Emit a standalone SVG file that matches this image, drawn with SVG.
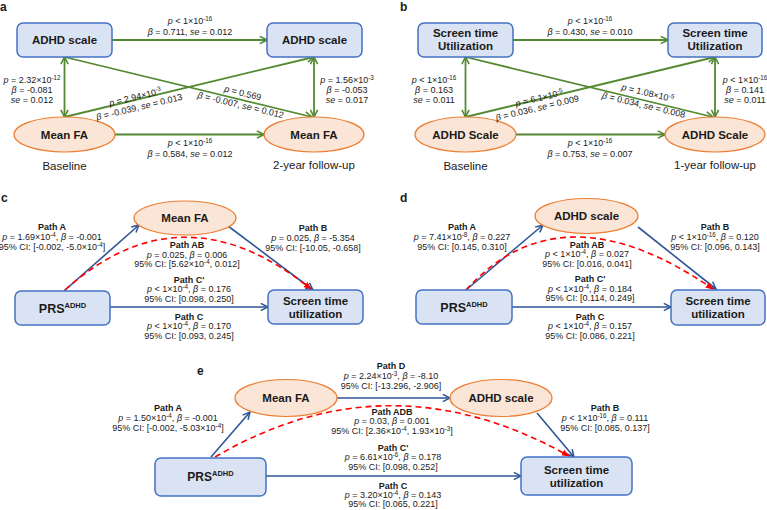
<svg xmlns="http://www.w3.org/2000/svg" width="767" height="510" viewBox="0 0 767 510">
<style>
text{font-family:"Liberation Sans",Arial,sans-serif;fill:#1a1a1a}
.s{font-size:9px;text-anchor:middle}
.pb{font-weight:bold}
.i{font-style:italic}
.sp{font-size:6.3px}
.n{font-size:11.5px;font-weight:bold;text-anchor:middle}
.cap{font-size:11.5px;text-anchor:middle}
.pl{font-size:12px;font-weight:bold}
.box{fill:#dae3f3;stroke:#4472c4;stroke-width:1.5}
.ell{fill:#fbe5d6;stroke:#ed7d31;stroke-width:1.2}
.g{stroke:#538a30;stroke-width:1.8;fill:none}
.bl{stroke:#2f5597;stroke-width:1.6;fill:none}
.rd{stroke:#ff0000;stroke-width:1.6;fill:none;stroke-dasharray:6 4}
</style>
<defs>
<marker id="ga" viewBox="0 0 10 10" refX="9" refY="5" markerWidth="9" markerHeight="9" markerUnits="userSpaceOnUse" orient="auto-start-reverse"><path d="M1,1 L9,5 L1,9" fill="none" stroke="#538a30" stroke-width="1.8"/></marker>
<marker id="ba" viewBox="0 0 10 10" refX="9" refY="5" markerWidth="9" markerHeight="9" markerUnits="userSpaceOnUse" orient="auto"><path d="M1,1 L9,5 L1,9" fill="none" stroke="#2f5597" stroke-width="1.7"/></marker>
<marker id="ra" viewBox="0 0 10 10" refX="9" refY="5" markerWidth="8" markerHeight="8" markerUnits="userSpaceOnUse" orient="auto"><path d="M0,1 L10,5 L0,9 z" fill="#ff0000"/></marker>
</defs>

<!-- panel labels -->
<text class="pl" x="0" y="11">a</text>
<text class="pl" x="400" y="11">b</text>
<text class="pl" x="1" y="202">c</text>
<text class="pl" x="400" y="202">d</text>
<text class="pl" x="197" y="375">e</text>

<g id="connectors">
<!-- panel a -->
<path class="g" d="M112,40 L267,40" marker-end="url(#ga)"/>
<path class="g" d="M115,134.5 L264,134.5" marker-end="url(#ga)"/>
<path class="g" d="M64.5,57 L64.5,117" marker-start="url(#ga)" marker-end="url(#ga)"/>
<path class="g" d="M314,57 L314,117" marker-start="url(#ga)" marker-end="url(#ga)"/>
<path class="g" d="M64.5,57 L312,117" marker-end="url(#ga)"/>
<path class="g" d="M64.5,117 L314,57" marker-end="url(#ga)"/>
<!-- panel b -->
<path class="g" d="M513,40 L668,40" marker-end="url(#ga)"/>
<path class="g" d="M516,134.5 L665,134.5" marker-end="url(#ga)"/>
<path class="g" d="M465.5,57 L465.5,117" marker-start="url(#ga)" marker-end="url(#ga)"/>
<path class="g" d="M715,57 L715,117" marker-start="url(#ga)" marker-end="url(#ga)"/>
<path class="g" d="M465.5,57 L713,117" marker-end="url(#ga)"/>
<path class="g" d="M465.5,117 L715,57" marker-end="url(#ga)"/>
<!-- panel c -->
<path class="bl" d="M64,291 L139,225" marker-end="url(#ba)"/>
<path class="bl" d="M228,226 L313,290" marker-end="url(#ba)"/>
<path class="bl" d="M110,307 L268,307" marker-end="url(#ba)"/>
<path class="rd" d="M65,290 Q182,185 311,289" marker-end="url(#ra)"/>
<!-- panel d -->
<path class="bl" d="M466,290 L543,225" marker-end="url(#ba)"/>
<path class="bl" d="M638,227 L716,289" marker-end="url(#ba)"/>
<path class="bl" d="M512,307 L671,307" marker-end="url(#ba)"/>
<path class="rd" d="M466,290 Q561,184.5 713,289" marker-end="url(#ra)"/>
<!-- panel e -->
<path class="bl" d="M211,457 L250,412" marker-end="url(#ba)"/>
<path class="bl" d="M337,398 L450,398" marker-end="url(#ba)"/>
<path class="bl" d="M537,413 L574,457" marker-end="url(#ba)"/>
<path class="bl" d="M266,476 L521,476" marker-end="url(#ba)"/>
<path class="rd" d="M215,457 Q389,355 569,456" marker-end="url(#ra)"/>
</g>

<!-- panel a nodes -->
<g id="a-adhd-baseline"><rect class="box" x="17" y="23" width="95" height="34" rx="6"/><text class="n" x="64.5" y="44">ADHD scale</text></g>
<g id="a-fa-baseline"><ellipse class="ell" cx="64.5" cy="134.5" rx="50.5" ry="17.5"/><text class="n" x="64.5" y="138.5">Mean FA</text></g>
<g id="a-adhd-followup"><rect class="box" x="267" y="23" width="95" height="34" rx="6"/><text class="n" x="314.5" y="44">ADHD scale</text></g>
<g id="a-fa-followup"><ellipse class="ell" cx="314" cy="134.5" rx="50" ry="17.5"/><text class="n" x="314" y="138.5">Mean FA</text></g>
<text class="cap" x="64.5" y="170">Baseline</text>
<text class="cap" x="314" y="169">2-year follow-up</text>

<!-- panel a labels -->
<text class="s" x="190" y="24"><tspan class="i">p</tspan> &lt; 1×10<tspan class="sp" dy="-3.5">-16</tspan></text>
<text class="s" x="190" y="35"><tspan class="i">β</tspan> = 0.711, <tspan class="i">se</tspan> = 0.012</text>
<text class="s" x="190" y="146"><tspan class="i">p</tspan> &lt; 1×10<tspan class="sp" dy="-3.5">-16</tspan></text>
<text class="s" x="190" y="157"><tspan class="i">β</tspan> = 0.584, <tspan class="i">se</tspan> = 0.012</text>
<text class="s" x="32" y="83"><tspan class="i">p</tspan> = 2.32×10<tspan class="sp" dy="-3.5">-12</tspan></text>
<text class="s" x="32" y="93"><tspan class="i">β</tspan> = -0.081</text>
<text class="s" x="32" y="103"><tspan class="i">se</tspan> = 0.012</text>
<text class="s" x="347" y="83"><tspan class="i">p</tspan> = 1.56×10<tspan class="sp" dy="-3.5">-3</tspan></text>
<text class="s" x="347" y="93"><tspan class="i">β</tspan> = -0.053</text>
<text class="s" x="347" y="103"><tspan class="i">se</tspan> = 0.017</text>
<text class="s" transform="translate(136,100) rotate(-13.5)"><tspan class="i">p</tspan> = 2.94×10<tspan class="sp" dy="-3.5">-3</tspan></text>
<text class="s" transform="translate(140,110) rotate(-13.5)"><tspan class="i">β</tspan> = -0.039, <tspan class="i">se</tspan> = 0.013</text>
<text class="s" transform="translate(242,96) rotate(13.5)"><tspan class="i">p</tspan> = 0.569</text>
<text class="s" transform="translate(240,108) rotate(13.5)"><tspan class="i">β</tspan> = -0.007, <tspan class="i">se</tspan> = 0.012</text>

<!-- panel b nodes -->
<g id="b-screen-baseline"><rect class="box" x="418" y="23" width="95" height="34" rx="6"/><text class="n" x="465.5" y="37">Screen time</text><text class="n" x="465.5" y="50">Utilization</text></g>
<g id="b-adhd-baseline"><ellipse class="ell" cx="465.5" cy="134.5" rx="50.5" ry="17.5"/><text class="n" x="465.5" y="138.5">ADHD Scale</text></g>
<g id="b-screen-followup"><rect class="box" x="668" y="23" width="94" height="34" rx="6"/><text class="n" x="715" y="37">Screen time</text><text class="n" x="715" y="50">Utilization</text></g>
<g id="b-adhd-followup"><ellipse class="ell" cx="715" cy="134.5" rx="50" ry="17.5"/><text class="n" x="715" y="138.5">ADHD Scale</text></g>
<text class="cap" x="465.5" y="170">Baseline</text>
<text class="cap" x="715" y="169">1-year follow-up</text>

<!-- panel b labels -->
<text class="s" x="590" y="24"><tspan class="i">p</tspan> &lt; 1×10<tspan class="sp" dy="-3.5">-16</tspan></text>
<text class="s" x="590" y="35"><tspan class="i">β</tspan> = 0.430, <tspan class="i">se</tspan> = 0.010</text>
<text class="s" x="590" y="146"><tspan class="i">p</tspan> &lt; 1×10<tspan class="sp" dy="-3.5">-16</tspan></text>
<text class="s" x="590" y="157"><tspan class="i">β</tspan> = 0.753, <tspan class="i">se</tspan> = 0.007</text>
<text class="s" x="434" y="83"><tspan class="i">p</tspan> &lt; 1×10<tspan class="sp" dy="-3.5">-16</tspan></text>
<text class="s" x="434" y="93"><tspan class="i">β</tspan> = 0.163</text>
<text class="s" x="434" y="103"><tspan class="i">se</tspan> = 0.011</text>
<text class="s" x="745" y="83"><tspan class="i">p</tspan> &lt; 1×10<tspan class="sp" dy="-3.5">-16</tspan></text>
<text class="s" x="745" y="93"><tspan class="i">β</tspan> = 0.141</text>
<text class="s" x="745" y="103"><tspan class="i">se</tspan> = 0.011</text>
<text class="s" transform="translate(540,101) rotate(-13.5)"><tspan class="i">p</tspan> = 6.1×10<tspan class="sp" dy="-3.5">-5</tspan></text>
<text class="s" transform="translate(538,111) rotate(-13.5)"><tspan class="i">β</tspan> = 0.036, <tspan class="i">se</tspan> = 0.009</text>
<text class="s" transform="translate(647,96) rotate(13.5)"><tspan class="i">p</tspan> = 1.08×10<tspan class="sp" dy="-3.5">-5</tspan></text>
<text class="s" transform="translate(643,108) rotate(13.5)"><tspan class="i">β</tspan> = 0.034, <tspan class="i">se</tspan> = 0.008</text>

<!-- panel c nodes -->
<g id="c-fa"><ellipse class="ell" cx="185" cy="218" rx="51" ry="17"/><text class="n" x="185" y="222">Mean FA</text></g>
<g id="c-prs"><rect class="box" x="15" y="291" width="95" height="34" rx="6"/><text class="n" x="62.5" y="312.5" style="font-size:12.5px">PRS<tspan style="font-size:7.5px" dy="-5">ADHD</tspan></text></g>
<g id="c-screen"><rect class="box" x="268" y="290" width="95" height="34" rx="6"/><text class="n" x="315.5" y="305">Screen time</text><text class="n" x="315.5" y="317.5">utilization</text></g>

<!-- panel c labels -->
<text class="s pb" x="52" y="230">Path A</text>
<text class="s" x="52" y="240"><tspan class="i">p</tspan> = 1.69×10<tspan class="sp" dy="-3.5">-4</tspan><tspan dy="3.5">, </tspan><tspan class="i">β</tspan> = -0.001</text>
<text class="s" x="52" y="250">95% CI: [-0.002, -5.0×10<tspan class="sp" dy="-3.5">-4</tspan><tspan dy="3.5">]</tspan></text>
<text class="s pb" x="313" y="231">Path B</text>
<text class="s" x="313" y="241"><tspan class="i">p</tspan> = 0.025, <tspan class="i">β</tspan> = -5.354</text>
<text class="s" x="313" y="251">95% CI: [-10.05, -0.658]</text>
<text class="s pb" x="187" y="248">Path AB</text>
<text class="s" x="187" y="258"><tspan class="i">p</tspan> = 0.025, <tspan class="i">β</tspan> = 0.006</text>
<text class="s" x="187" y="267">95% CI: [5.62×10<tspan class="sp" dy="-3.5">-4</tspan><tspan dy="3.5">, 0.012]</tspan></text>
<text class="s pb" x="189" y="283">Path C'</text>
<text class="s" x="189" y="292"><tspan class="i">p</tspan> &lt; 1×10<tspan class="sp" dy="-3.5">-4</tspan><tspan dy="3.5">, </tspan><tspan class="i">β</tspan> = 0.176</text>
<text class="s" x="189" y="302">95% CI: [0.098, 0.250]</text>
<text class="s pb" x="189" y="320">Path C</text>
<text class="s" x="189" y="329"><tspan class="i">p</tspan> &lt; 1×10<tspan class="sp" dy="-3.5">-4</tspan><tspan dy="3.5">, </tspan><tspan class="i">β</tspan> = 0.170</text>
<text class="s" x="189" y="339">95% CI: [0.093, 0.245]</text>

<!-- panel d nodes -->
<g id="d-adhd"><ellipse class="ell" cx="586.5" cy="216" rx="51.5" ry="17.5"/><text class="n" x="586.5" y="220">ADHD scale</text></g>
<g id="d-prs"><rect class="box" x="416" y="290" width="96" height="34" rx="6"/><text class="n" x="464" y="311.5" style="font-size:12.5px">PRS<tspan style="font-size:7.5px" dy="-5">ADHD</tspan></text></g>
<g id="d-screen"><rect class="box" x="671" y="290" width="94" height="35" rx="6"/><text class="n" x="718" y="305">Screen time</text><text class="n" x="718" y="318">utilization</text></g>

<!-- panel d labels -->
<text class="s pb" x="462" y="230">Path A</text>
<text class="s" x="462" y="240"><tspan class="i">p</tspan> = 7.41×10<tspan class="sp" dy="-3.5">-8</tspan><tspan dy="3.5">, </tspan><tspan class="i">β</tspan> = 0.227</text>
<text class="s" x="462" y="250">95% CI: [0.145, 0.310]</text>
<text class="s pb" x="715" y="230">Path B</text>
<text class="s" x="715" y="240"><tspan class="i">p</tspan> &lt; 1×10<tspan class="sp" dy="-3.5">-16</tspan><tspan dy="3.5">, </tspan><tspan class="i">β</tspan> = 0.120</text>
<text class="s" x="715" y="250">95% CI: [0.096, 0.143]</text>
<text class="s pb" x="587" y="248">Path AB</text>
<text class="s" x="587" y="257"><tspan class="i">p</tspan> &lt; 1×10<tspan class="sp" dy="-3.5">-4</tspan><tspan dy="3.5">, </tspan><tspan class="i">β</tspan> = 0.027</text>
<text class="s" x="587" y="267">95% CI: [0.016, 0.041]</text>
<text class="s pb" x="590" y="282">Path C'</text>
<text class="s" x="590" y="292"><tspan class="i">p</tspan> &lt; 1×10<tspan class="sp" dy="-3.5">-4</tspan><tspan dy="3.5">, </tspan><tspan class="i">β</tspan> = 0.184</text>
<text class="s" x="590" y="301">95% CI: [0.114, 0.249]</text>
<text class="s pb" x="590" y="320">Path C</text>
<text class="s" x="590" y="329"><tspan class="i">p</tspan> &lt; 1×10<tspan class="sp" dy="-3.5">-4</tspan><tspan dy="3.5">, </tspan><tspan class="i">β</tspan> = 0.157</text>
<text class="s" x="590" y="339">95% CI: [0.086, 0.221]</text>

<!-- panel e nodes -->
<g id="e-fa"><ellipse class="ell" cx="286" cy="398" rx="51" ry="18.5"/><text class="n" x="286" y="402">Mean FA</text></g>
<g id="e-adhd"><ellipse class="ell" cx="501" cy="398" rx="51" ry="18.5"/><text class="n" x="501" y="402">ADHD scale</text></g>
<g id="e-prs"><rect class="box" x="155" y="458" width="111" height="38" rx="6"/><text class="n" x="210.5" y="481" style="font-size:12px">PRS<tspan style="font-size:7.5px" dy="-5">ADHD</tspan></text></g>
<g id="e-screen"><rect class="box" x="521" y="457" width="111" height="38" rx="6"/><text class="n" x="576.5" y="474">Screen time</text><text class="n" x="576.5" y="487">utilization</text></g>

<!-- panel e labels -->
<text class="s pb" x="168" y="411">Path A</text>
<text class="s" x="168" y="421"><tspan class="i">p</tspan> = 1.50×10<tspan class="sp" dy="-3.5">-4</tspan><tspan dy="3.5">, </tspan><tspan class="i">β</tspan> = -0.001</text>
<text class="s" x="168" y="431">95% CI: [-0.002, -5.03×10<tspan class="sp" dy="-3.5">-4</tspan><tspan dy="3.5">]</tspan></text>
<text class="s pb" x="391" y="369">Path D</text>
<text class="s" x="391" y="379"><tspan class="i">p</tspan> = 2.24×10<tspan class="sp" dy="-3.5">-3</tspan><tspan dy="3.5">, </tspan><tspan class="i">β</tspan> = -8.10</text>
<text class="s" x="391" y="389">95% CI: [-13.296, -2.906]</text>
<text class="s pb" x="392" y="415">Path ADB</text>
<text class="s" x="392" y="424"><tspan class="i">p</tspan> = 0.03, <tspan class="i">β</tspan> = 0.001</text>
<text class="s" x="392" y="434">95% CI: [2.36×10<tspan class="sp" dy="-3.5">-4</tspan><tspan dy="3.5">, 1.93×10</tspan><tspan class="sp" dy="-3.5">-3</tspan><tspan dy="3.5">]</tspan></text>
<text class="s pb" x="393" y="451">Path C'</text>
<text class="s" x="393" y="460"><tspan class="i">p</tspan> = 6.61×10<tspan class="sp" dy="-3.5">-6</tspan><tspan dy="3.5">, </tspan><tspan class="i">β</tspan> = 0.178</text>
<text class="s" x="393" y="470">95% CI: [0.098, 0.252]</text>
<text class="s pb" x="393" y="489">Path C</text>
<text class="s" x="393" y="498"><tspan class="i">p</tspan> = 3.20×10<tspan class="sp" dy="-3.5">-4</tspan><tspan dy="3.5">, </tspan><tspan class="i">β</tspan> = 0.143</text>
<text class="s" x="393" y="507">95% CI: [0.065, 0.221]</text>
<text class="s pb" x="605" y="411">Path B</text>
<text class="s" x="605" y="421"><tspan class="i">p</tspan> &lt; 1×10<tspan class="sp" dy="-3.5">-16</tspan><tspan dy="3.5">, </tspan><tspan class="i">β</tspan> = 0.111</text>
<text class="s" x="605" y="431">95% CI: [0.085, 0.137]</text>
</svg>
